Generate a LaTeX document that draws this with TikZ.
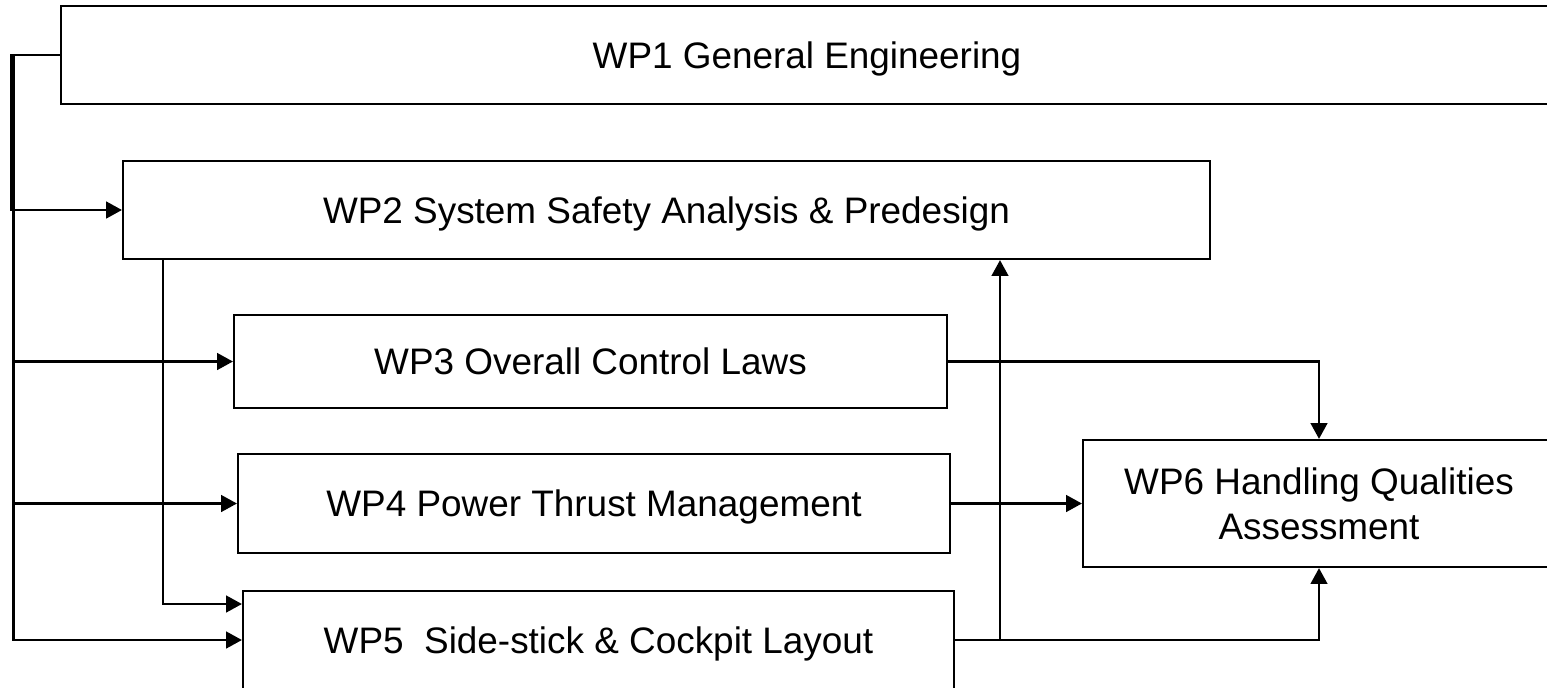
\documentclass[tikz,border=0pt]{standalone}
\usepackage{fontspec}
\setmainfont{Liberation Sans}
\usepackage{tikz}
\usetikzlibrary{arrows.meta, positioning, calc}

\begin{document}
\begin{tikzpicture}[x=0.02cm, y=-0.02cm, >={Triangle[length=9pt, width=9.5pt]},
    line width=1.3pt,
    wpbox/.style={draw, rectangle, inner sep=0pt, align=center, text depth=0pt,
      font=\fontsize{21}{25.6}\selectfont}]
    \useasboundingbox (0,0) rectangle (1547,687);
    \clip (0,0) rectangle (1547,687);
    % work packages
    \node[wpbox, minimum width=29.84cm, minimum height=1.96cm]
      (wp1) at (807,55) {WP1 General Engineering};
    \node[wpbox, minimum width=21.74cm, minimum height=1.96cm]
      (wp2) at (666.5,210) {WP2 System Safety Analysis \& Predesign};
    \node[wpbox, minimum width=14.26cm, minimum height=1.86cm]
      (wp3) at (590.5,361.5) {WP3 Overall Control Laws};
    \node[wpbox, minimum width=14.24cm, minimum height=1.98cm]
      (wp4) at (594,503.5) {WP4 Power Thrust Management};
    \node[wpbox, minimum width=14.22cm, minimum height=1.96cm]
      (wp5) at (598.5,640) {WP5\ \ Side-stick \& Cockpit Layout};
    \node[wpbox, minimum width=9.44cm, minimum height=2.54cm]
      (wp6) at (1319,503.5) {WP6 Handling Qualities\\Assessment};
    % bus from WP1 on the left
    \coordinate (busa) at (11.5,0);
    \coordinate (busb) at (13.5,0);
    \draw[->] (wp1.west) -- (wp1.west -| busa) |- (wp2.west);
    \draw[->] (wp1.west) -- (wp1.west -| busb) |- (wp5.west);
    \foreach \wp in {wp3,wp4}{
      \draw[->] (\wp.west -| busb) -- (\wp.west);
    }
    % WP2 down to WP5
    \coordinate (tap2) at (163,604);
    \draw[->] (wp2.south -| tap2) -- (tap2) -- (tap2 -| wp5.west);
    % outputs to WP6
    \draw[->] (wp3.east) -| (wp6.north);
    \draw[->] (wp4.east) -- (wp6.west);
    \draw[->] (wp5.east) -| (wp6.south);
    % feedback from WP5 to WP2
    \coordinate (tap5) at (1000,640);
    \draw[->] (tap5) -- (tap5 |- wp2.south);
\end{tikzpicture}
\end{document}
